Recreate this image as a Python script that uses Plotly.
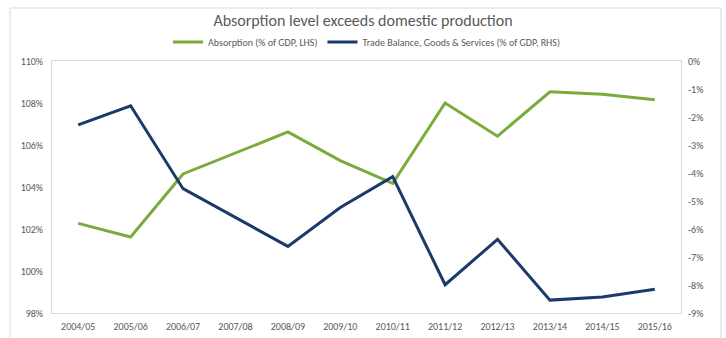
import plotly.graph_objects as go

years = ["2004/05", "2005/06", "2006/07", "2007/08", "2008/09", "2009/10",
         "2010/11", "2011/12", "2012/13", "2013/14", "2014/15", "2015/16"]
absorption = [102.27, 101.62, 104.62, 105.62, 106.62, 105.26,
              104.17, 108.0, 106.42, 108.53, 108.42, 108.15]
trade_balance = [-2.28, -1.60, -4.56, -5.59, -6.62, -5.23,
                 -4.13, -7.99, -6.37, -8.54, -8.43, -8.15]

left_vals = [98, 100, 102, 104, 106, 108, 110]
left_text = ["98%", "100%", "102%", "104%", "106%", "108%", "110%"]
right_vals = [0, -1, -2, -3, -4, -5, -6, -7, -8, -9]
right_text = ["0%", "-1%", "-2%", "-3%", "-4%", "-5%", "-6%", "-7%", "-8%", "-9%"]

GREEN = "#7AAB3C"
NAVY = "#1B3A6B"
GREY = "#595959"
FONT = "Carlito, Lato, sans-serif"

fig = go.Figure()
fig.add_trace(go.Scatter(x=years, y=absorption, mode="lines",
                         name="Absorption (% of GDP, LHS)",
                         line=dict(color=GREEN, width=3), yaxis="y"))
fig.add_trace(go.Scatter(x=years, y=trade_balance, mode="lines",
                         name="Trade Balance, Goods & Services (% of GDP, RHS)",
                         line=dict(color=NAVY, width=3), yaxis="y2"))

fig.update_layout(
    width=726, height=338,
    autosize=False,
    margin=dict(l=52, r=45, t=61, b=25, autoexpand=False),
    paper_bgcolor="white", plot_bgcolor="white",
    font=dict(family=FONT, color=GREY, size=10),
    title=dict(text="Absorption level exceeds domestic production",
               x=0.5, xanchor="center", y=1 - 20 / 338, yanchor="middle",
               font=dict(size=16, color=GREY, family=FONT)),
    showlegend=True,
    legend=dict(orientation="h", x=0.5, xanchor="center",
                y=1.075, yanchor="middle", font=dict(size=10, color=GREY),
                bgcolor="rgba(0,0,0,0)"),
    xaxis=dict(type="category", range=[-0.5, len(years) - 0.5],
               showgrid=False, ticks="", showline=True,
               linecolor="#D9D9D9", linewidth=1, mirror=True, tickangle=0,
               ticklabelstandoff=4,
               tickfont=dict(size=10, color=GREY), fixedrange=True),
    yaxis=dict(range=[98, 110], tickvals=left_vals, ticktext=left_text,
               showgrid=False, zeroline=False, showline=True,
               linecolor="#D9D9D9", mirror=True, ticks="",
               ticklabelstandoff=6,
               tickfont=dict(size=10, color=GREY)),
    yaxis2=dict(range=[-9, 0], tickvals=right_vals, ticktext=right_text,
                overlaying="y", side="right", showgrid=False, zeroline=False,
                showline=False, ticks="", ticklabelstandoff=6,
                tickfont=dict(size=10, color=GREY)),
    shapes=[dict(type="rect", xref="paper", yref="paper",
                 x0=(10 - 52) / 629, x1=(721 - 52) / 629,
                 y0=-0.3, y1=(313 - 8) / 252,
                 line=dict(color="#D9D9D9", width=1), layer="below")],
)

fig.write_html("out.html")
